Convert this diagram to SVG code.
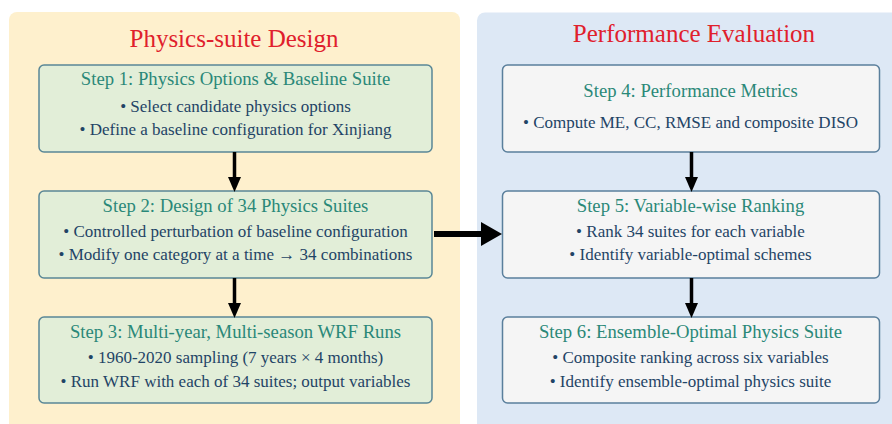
<svg xmlns="http://www.w3.org/2000/svg" width="892" height="424" viewBox="0 0 892 424">
<defs>
<style>
.panelL{fill:#fef0cd;}
.panelR{fill:#dde8f5;}
.boxL{fill:#e2eed8;stroke:#5a8796;stroke-width:1.5;}
.boxR{fill:#f5f5f5;stroke:#5a7f9c;stroke-width:1.5;}
.ptitle{font-family:"Liberation Serif","Times New Roman",serif;font-size:25px;fill:#e0202c;text-anchor:middle;}
.stitle{font-family:"Liberation Serif","Times New Roman",serif;font-size:18.7px;fill:#2a8878;text-anchor:middle;}
.bul{font-family:"Liberation Serif","Times New Roman",serif;font-size:17px;fill:#1f4466;text-anchor:middle;}
.conn{stroke:#000;stroke-width:3.5;fill:none;}
</style>
<marker id="ah" markerWidth="13" markerHeight="15" refX="6.5" refY="15" orient="auto-start-reverse" markerUnits="userSpaceOnUse" viewBox="0 0 13 15">
<path d="M0,0 L13,0 L6.5,15 Z" fill="#000"/>
</marker>
</defs>
<rect x="0" y="0" width="892" height="424" fill="#ffffff"/>
<g id="panel-design">
<rect class="panelL" x="9" y="12" width="451" height="420" rx="8"/>
<text class="ptitle" x="234" y="47">Physics-suite Design</text>
</g>
<g id="panel-evaluation">
<rect class="panelR" x="477" y="12.5" width="425" height="420" rx="8"/>
<text class="ptitle" x="694" y="42">Performance Evaluation</text>
</g>
<g id="step1">
<rect class="boxL" x="39" y="65" width="393" height="87" rx="5"/>
<text class="stitle" x="235.5" y="85">Step 1: Physics Options &amp; Baseline Suite</text>
<text class="bul" x="235.5" y="112">• Select candidate physics options</text>
<text class="bul" x="235.5" y="135">• Define a baseline configuration for Xinjiang</text>
</g>
<g id="step2">
<rect class="boxL" x="39" y="191" width="393" height="87" rx="5"/>
<text class="stitle" x="235.5" y="212">Step 2: Design of 34 Physics Suites</text>
<text class="bul" x="235.5" y="237">• Controlled perturbation of baseline configuration</text>
<text class="bul" x="235.5" y="260">• Modify one category at a time → 34 combinations</text>
</g>
<g id="step3">
<rect class="boxL" x="39" y="317" width="393" height="86" rx="5"/>
<text class="stitle" x="235.5" y="338">Step 3: Multi-year, Multi-season WRF Runs</text>
<text class="bul" x="235.5" y="363">• 1960-2020 sampling (7 years × 4 months)</text>
<text class="bul" x="235.5" y="387">• Run WRF with each of 34 suites; output variables</text>
</g>
<g id="step4">
<rect class="boxR" x="502.5" y="65" width="377" height="87" rx="5"/>
<text class="stitle" x="690.5" y="97">Step 4: Performance Metrics</text>
<text class="bul" x="690.5" y="128">• Compute ME, CC, RMSE and composite DISO</text>
</g>
<g id="step5">
<rect class="boxR" x="502.5" y="191" width="377" height="87" rx="5"/>
<text class="stitle" x="690.5" y="212">Step 5: Variable-wise Ranking</text>
<text class="bul" x="690.5" y="237">• Rank 34 suites for each variable</text>
<text class="bul" x="690.5" y="260">• Identify variable-optimal schemes</text>
</g>
<g id="step6">
<rect class="boxR" x="502.5" y="317" width="377" height="86" rx="5"/>
<text class="stitle" x="690.5" y="338">Step 6: Ensemble-Optimal Physics Suite</text>
<text class="bul" x="690.5" y="363">• Composite ranking across six variables</text>
<text class="bul" x="690.5" y="387">• Identify ensemble-optimal physics suite</text>
</g>
<g id="connectors">
<line class="conn" x1="234.5" y1="152" x2="234.5" y2="178"/>
<path d="M228,177 L241,177 L234.5,192 Z" fill="#000"/>
<line class="conn" x1="234.5" y1="278" x2="234.5" y2="304"/>
<path d="M228,303 L241,303 L234.5,318 Z" fill="#000"/>
<line class="conn" x1="691.5" y1="152" x2="691.5" y2="178"/>
<path d="M685,177 L698,177 L691.5,192 Z" fill="#000"/>
<line class="conn" x1="691.5" y1="278" x2="691.5" y2="304"/>
<path d="M685,303 L698,303 L691.5,318 Z" fill="#000"/>
<line x1="434" y1="234" x2="483" y2="234" stroke="#000" stroke-width="6"/>
<path d="M481,222 L502,234 L481,246 Z" fill="#000"/>
</g>
</svg>
